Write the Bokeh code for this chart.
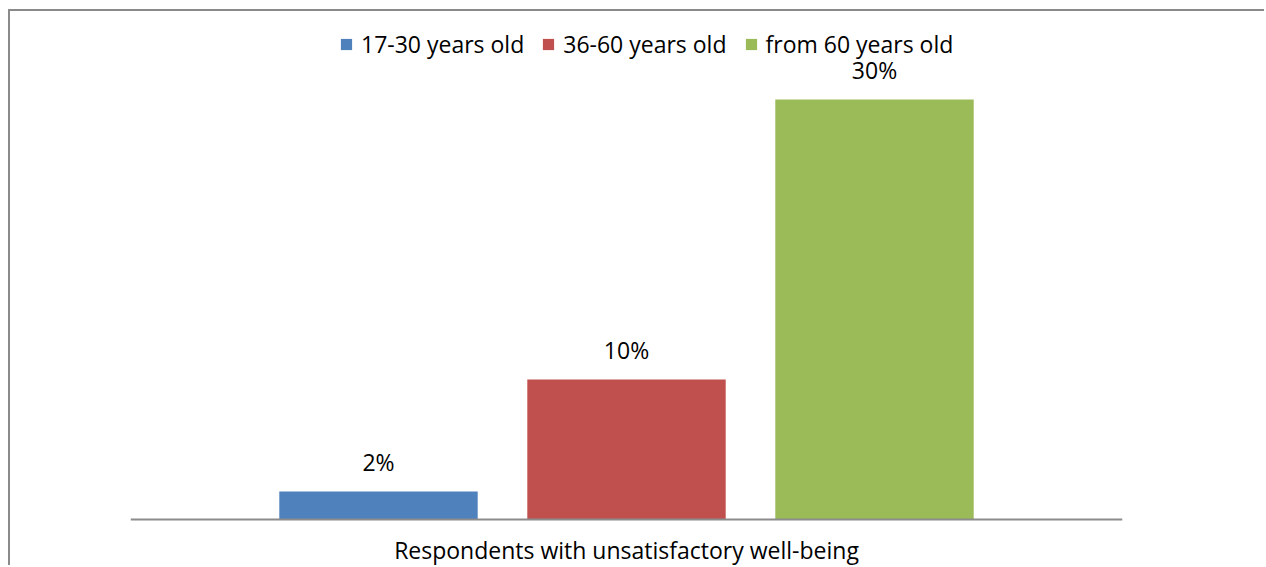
from bokeh.plotting import figure
from bokeh.models import ColumnDataSource, FactorRange, Range1d
from bokeh.transform import dodge
from bokeh.core.properties import value
from bokeh.embed import file_html
from bokeh.resources import INLINE

# ---- data ----
categories = ["Respondents with unsatisfactory well-being"]
series_names = ["17-30 years old", "36-60 years old", "from 60 years old"]
values_17_30 = [2]
values_36_60 = [10]
values_from_60 = [30]
series_values = [values_17_30, values_36_60, values_from_60]
series_colors = ["#4F81BD", "#C0504D", "#9BBB59"]
offsets = [-0.25, 0.0, 0.25]

FONT = "Open Sans"
FS = "23px"

p = figure(
    x_range=FactorRange(factors=categories, range_padding=0),
    y_range=Range1d(-3.43, 35.64),
    width=1256, height=556,
    output_backend="svg", toolbar_location=None,
    min_border_left=120, min_border_right=144,
    min_border_top=9, min_border_bottom=0,
)
p.styles = {"margin-left": "8px", "margin-top": "9px",
            "border-left": "2px solid #8a8a8a", "border-top": "2px solid #8a8a8a"}

for name, vals, color, off in zip(series_names, series_values, series_colors, offsets):
    src = ColumnDataSource(dict(cat=categories, val=vals, lab=[f"{v}%" for v in vals]))
    p.vbar(x=dodge("cat", off, range=p.x_range), top="val", width=0.2, source=src,
           fill_color=color, line_color=None, legend_label=name)
    p.text(x=dodge("cat", off, range=p.x_range), y="val", text="lab", source=src,
           text_align="center", text_baseline="alphabetic", y_offset=-29,
           text_font=value(FONT), text_font_size=FS, text_color="#000000")

p.yaxis.visible = False
p.xgrid.grid_line_color = None
p.ygrid.grid_line_color = None
p.outline_line_color = None

ax = p.xaxis[0]
ax.fixed_location = 0
ax.axis_line_color = "#8c8c8c"
ax.axis_line_width = 2
ax.major_tick_line_color = None
ax.minor_tick_line_color = None
ax.major_label_text_font = FONT
ax.major_label_text_font_size = FS
ax.major_label_text_color = "#000000"
ax.major_label_standoff = 9

lg = p.legend[0]
lg.location = (209, 507)
lg.orientation = "horizontal"
lg.glyph_width = 14
lg.glyph_height = 14
lg.label_standoff = 8
lg.spacing = 17
lg.padding = 0
lg.margin = 0
lg.border_line_color = None
lg.background_fill_alpha = 0
lg.label_text_font = FONT
lg.label_text_font_size = FS
lg.label_text_color = "#000000"

open("out.html", "w").write(file_html(p, INLINE))
